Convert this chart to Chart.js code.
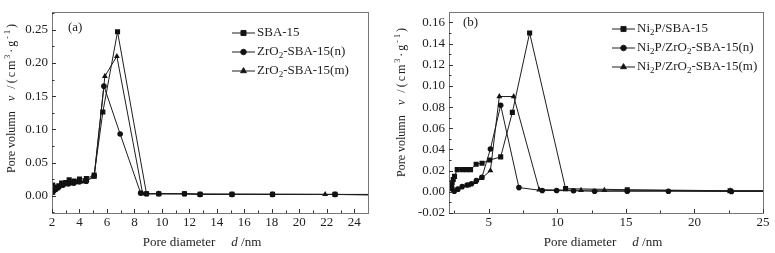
<!DOCTYPE html>
<html lang="en">
<head>
<meta charset="UTF-8">
<title>Pore size distribution</title>
<script src="https://cdn.jsdelivr.net/npm/chart.js@4.4.0/dist/chart.umd.min.js"></script>
<style>
  body { margin: 0; background: #fff; }
  .wrap { position: relative; width: 775px; height: 253px; }
  .panel { position: absolute; top: 0; }
</style>
</head>
<body>
<div class="wrap">
  <div class="panel" style="left:0"><canvas id="chartA" width="390" height="253"></canvas></div>
  <div class="panel" style="left:390px"><canvas id="chartB" width="385" height="253"></canvas></div>
</div>
<script>
const FONT = '"Liberation Serif", "Times New Roman", serif';
const INK = '#1e1e1e';

// ---- panel (a) ----
const aLabels = ['SBA-15', 'ZrO_{2}-SBA-15(n)', 'ZrO_{2}-SBA-15(m)'];
const aSbaX = [2.05, 2.15, 2.3, 2.5, 2.7, 3.0, 3.25, 3.6, 4.0, 4.5, 5.07, 5.7, 6.77, 8.88, 9.77, 11.64, 12.78, 15.1, 18.05, 22.6, 27];
const aSbaY = [0.016, 0.013, 0.012, 0.015, 0.019, 0.020, 0.024, 0.022, 0.025, 0.026, 0.031, 0.126, 0.247, 0.003, 0.003, 0.003, 0.002, 0.002, 0.002, 0.002, 0.001];
const aNX = [2.05, 2.15, 2.3, 2.5, 2.8, 3.2, 3.6, 4.0, 4.5, 5.07, 5.78, 6.96, 8.45, 8.88, 9.77, 11.64, 12.78, 15.1, 18.05, 22.6, 27];
const aNY = [0.006, 0.008, 0.010, 0.013, 0.016, 0.018, 0.019, 0.021, 0.022, 0.030, 0.165, 0.093, 0.004, 0.003, 0.003, 0.003, 0.002, 0.002, 0.002, 0.002, 0.002];
const aMX = [2.05, 2.2, 2.4, 2.7, 3.0, 3.4, 3.8, 4.3, 5.07, 5.85, 6.72, 8.6, 9.77, 21.88, 27];
const aMY = [0.004, 0.008, 0.011, 0.015, 0.017, 0.018, 0.020, 0.021, 0.028, 0.180, 0.210, 0.003, 0.003, 0.002, 0.001];
const aXTicks = [2, 4, 6, 8, 10, 12, 14, 16, 18, 20, 22, 24];
const aXMinor = [3, 5, 7, 9, 11, 13, 15, 17, 19, 21, 23, 25];
const aYTicks = [0, 0.05, 0.10, 0.15, 0.20, 0.25];
const aYMinor = [-0.025, 0.025, 0.075, 0.125, 0.175, 0.225, 0.275];

// ---- panel (b) ----
const bLabels = ['Ni_{2}P/SBA-15', 'Ni_{2}P/ZrO_{2}-SBA-15(n)', 'Ni_{2}P/ZrO_{2}-SBA-15(m)'];
const bSbaX = [2.21, 2.28, 2.33, 2.41, 2.5, 2.7, 3.06, 3.37, 3.67, 4.08, 4.51, 5.07, 5.87, 6.72, 7.98, 10.6, 15.1, 22.6, 27];
const bSbaY = [0.003, 0.0055, 0.0085, 0.0116, 0.0146, 0.021, 0.021, 0.021, 0.021, 0.026, 0.027, 0.030, 0.033, 0.075, 0.150, 0.003, 0.002, 0.001, 0.001];
const bNX = [2.2, 2.3, 2.48, 2.74, 3.06, 3.42, 3.74, 4.1, 4.5, 5.12, 5.87, 7.2, 8.9, 9.95, 11.18, 12.72, 15.1, 18.1, 22.7, 27];
const bNY = [0.008, 0.004, 0.0005, 0.0025, 0.005, 0.0064, 0.0076, 0.0107, 0.0137, 0.0405, 0.0817, 0.004, 0.0012, 0.0012, 0.001, 0.0005, 0.0005, 0.0005, 0.0003, 0.0003];
const bMX = [2.2, 2.45, 2.7, 3.0, 3.5, 4.0, 4.5, 5.12, 5.77, 6.82, 8.68, 11.73, 13.43, 22.6, 27];
const bMY = [0.004, 0.001, 0.002, 0.004, 0.006, 0.009, 0.013, 0.020, 0.090, 0.090, 0.002, 0.0015, 0.0015, 0.001, 0.001];
const bXTicks = [5, 10, 15, 20, 25];
const bXMinor = [2.5, 7.5, 12.5, 17.5, 22.5];
const bYTicks = [-0.02, 0, 0.02, 0.04, 0.06, 0.08, 0.10, 0.12, 0.14, 0.16];
const bYMinor = [-0.01, 0.01, 0.03, 0.05, 0.07, 0.09, 0.11, 0.13, 0.15, 0.17];

function pts(xs, ys) {
  return xs.map((x, i) => ({ x: x, y: ys[i] }));
}

// draws text with _{sub}, ^{sup} and *italic* pieces
function drawRich(ctx, str, x, y, size) {
  const parts = str.match(/_\{[^}]*\}|\^\{[^}]*\}|\*[^*]*\*|[^_^*]+/g);
  let cx = x;
  parts.forEach(p => {
    let txt = p, fs = size, dy = 0, italic = false;
    if (p[0] === '_') { txt = p.slice(2, -1); fs = Math.round(size * 0.7); dy = size * 0.3; }
    else if (p[0] === '^') { txt = p.slice(2, -1); fs = Math.round(size * 0.7); dy = -size * 0.38; }
    else if (p[0] === '*') { txt = p.slice(1, -1); italic = true; }
    ctx.font = (italic ? 'italic ' : '') + fs + 'px ' + FONT;
    ctx.fillText(txt, cx, y + dy);
    cx += ctx.measureText(txt).width;
  });
  return cx - x;
}

const decorPlugin = {
  id: 'decor',
  afterDraw(chart) {
    const o = chart.options.plugins.decor;
    const ctx = chart.ctx;
    const a = chart.chartArea;
    const sx = chart.scales.x, sy = chart.scales.y;
    ctx.save();
    // frame
    ctx.strokeStyle = '#777';
    ctx.lineWidth = 1;
    ctx.strokeRect(Math.round(a.left) + 0.5, Math.round(a.top) + 0.5, Math.round(a.right - a.left), Math.round(a.bottom - a.top));
    // inward ticks
    ctx.strokeStyle = '#333';
    ctx.beginPath();
    sx.ticks.forEach(t => {
      const px = Math.round(sx.getPixelForValue(t.value)) + 0.5;
      ctx.moveTo(px, a.bottom); ctx.lineTo(px, a.bottom - 4);
    });
    o.xMinor.forEach(v => {
      if (v <= sx.min || v >= sx.max) return;
      const px = Math.round(sx.getPixelForValue(v)) + 0.5;
      ctx.moveTo(px, a.bottom); ctx.lineTo(px, a.bottom - 2.5);
    });
    sy.ticks.forEach(t => {
      const py = Math.round(sy.getPixelForValue(t.value)) + 0.5;
      ctx.moveTo(a.left, py); ctx.lineTo(a.left + 4, py);
    });
    o.yMinor.forEach(v => {
      if (v <= sy.min || v >= sy.max) return;
      const py = Math.round(sy.getPixelForValue(v)) + 0.5;
      ctx.moveTo(a.left, py); ctx.lineTo(a.left + 2.5, py);
    });
    ctx.stroke();

    ctx.fillStyle = INK;
    ctx.textBaseline = 'middle';
    ctx.textAlign = 'left';
    // panel tag
    ctx.font = '13px ' + FONT;
    ctx.fillText(o.tag, a.left + o.tagDx, a.top + o.tagDy);

    // legend
    chart.data.datasets.forEach((ds, i) => {
      const ly = o.legY + i * o.legGap;
      ctx.strokeStyle = INK;
      ctx.lineWidth = 1;
      ctx.beginPath();
      ctx.moveTo(o.legX, ly); ctx.lineTo(o.legX + 23, ly);
      ctx.stroke();
      ctx.fillStyle = '#111';
      Chart.helpers.drawPoint(ctx, { pointStyle: ds.pointStyle, radius: ds.pointRadius, rotation: 0, borderWidth: 1 }, o.legX + 11.5, ly);
      ctx.fillStyle = INK;
      drawRich(ctx, o.labels[i], o.legX + 25, ly, 13);
    });

    // x title
    const cx = (a.left + a.right) / 2;
    ctx.font = '13px ' + FONT;
    const w1 = ctx.measureText('Pore diameter').width;
    ctx.font = 'italic 13px ' + FONT;
    const w2 = ctx.measureText('d').width;
    ctx.font = '13px ' + FONT;
    const w3 = ctx.measureText(' /nm').width;
    const gap = 16;
    let tx = cx - (w1 + gap + w2 + w3) / 2 + o.xtDx;
    drawRich(ctx, 'Pore diameter', tx, 243, 13);
    drawRich(ctx, '*d* /nm', tx + w1 + gap, 243, 13);

    // y title
    ctx.translate(12, o.ytStart);
    ctx.rotate(-Math.PI / 2);
    drawRich(ctx, 'Pore volumn', 0, 0, 12);
    ctx.letterSpacing = '2px';
    drawRich(ctx, '*v* /(cm^{3}·g^{-1})', 72, 0, 12);
    ctx.letterSpacing = '0px';
    ctx.restore();
  }
};

function makeChart(id, opt) {
  const styles = [
    { pointStyle: 'rect', pointRadius: 3.6 },
    { pointStyle: 'circle', pointRadius: 2.8 },
    { pointStyle: 'triangle', pointRadius: 3.4 }
  ];
  const datasets = opt.series.map((s, i) => ({
    label: opt.labels[i].replace(/_\{(.*?)\}/g, '$1'),
    data: s,
    showLine: true,
    borderColor: INK,
    borderWidth: 1,
    backgroundColor: '#111',
    pointBackgroundColor: '#111',
    pointBorderColor: '#111',
    pointBorderWidth: 0,
    pointStyle: styles[i].pointStyle,
    pointRadius: styles[i].pointRadius,
    tension: 0
  }));
  return new Chart(document.getElementById(id), {
    type: 'scatter',
    data: { datasets: datasets },
    plugins: [decorPlugin],
    options: {
      responsive: false,
      animation: false,
      events: [],
      layout: { padding: { top: 5, right: opt.padRight, left: 0, bottom: 0 } },
      plugins: {
        legend: { display: false },
        tooltip: { enabled: false },
        decor: opt.decor
      },
      scales: {
        x: {
          type: 'linear',
          min: opt.xMin, max: opt.xMax,
          afterBuildTicks: s => { s.ticks = opt.xTicks.map(v => ({ value: v })); },
          afterFit: s => { s.height = 40; },
          grid: { display: false, drawTicks: false },
          border: { display: false },
          ticks: { font: { family: FONT, size: 13 }, color: INK, padding: 2, maxRotation: 0, autoSkip: false,
                   callback: v => String(v) }
        },
        y: {
          type: 'linear',
          min: opt.yMin, max: opt.yMax,
          afterBuildTicks: s => { s.ticks = opt.yTicks.map(v => ({ value: v })); },
          afterFit: s => { s.width = opt.yWidth; },
          grid: { display: false, drawTicks: false },
          border: { display: false },
          ticks: { font: { family: FONT, size: 13 }, color: INK, padding: 4, autoSkip: false,
                   callback: v => v.toFixed(2) }
        }
      }
    }
  });
}

makeChart('chartA', {
  labels: aLabels,
  series: [pts(aSbaX, aSbaY), pts(aNX, aNY), pts(aMX, aMY)],
  xMin: 2, xMax: 25, yMin: -0.026, yMax: 0.277,
  xTicks: aXTicks, yTicks: aYTicks,
  padRight: 22, yWidth: 52,
  decor: { xMinor: aXMinor, yMinor: aYMinor, tag: '(a)', tagDx: 16, tagDy: 16,
           labels: aLabels, legX: 232, legY: 33, legGap: 19, xtDx: -8, ytStart: 173 }
});

makeChart('chartB', {
  labels: bLabels,
  series: [pts(bSbaX, bSbaY), pts(bNX, bNY), pts(bMX, bMY)],
  xMin: 2.1, xMax: 25, yMin: -0.02, yMax: 0.17,
  xTicks: bXTicks, yTicks: bYTicks,
  padRight: 12, yWidth: 59,
  decor: { xMinor: bXMinor, yMinor: bYMinor, tag: '(b)', tagDx: 14, tagDy: 11,
           labels: bLabels, legX: 222, legY: 29, legGap: 19, xtDx: -3, ytStart: 177 }
});
</script>
</body>
</html>
